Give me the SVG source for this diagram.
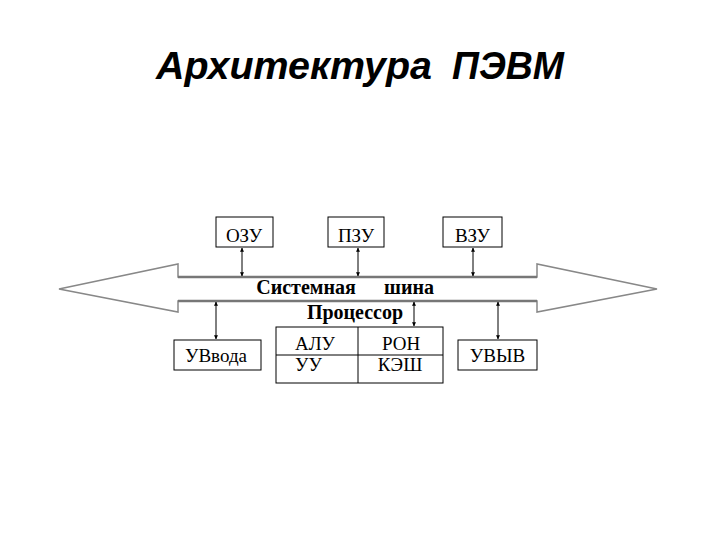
<svg xmlns="http://www.w3.org/2000/svg" width="720" height="540" viewBox="0 0 720 540">
<defs>
<marker id="ah" viewBox="0 0 6 6" refX="5.5" refY="3" markerWidth="4" markerHeight="4" orient="auto-start-reverse">
<path d="M0,0 L6,3 L0,6 z" fill="#000"/>
</marker>
</defs>
<style>
.box{fill:#fff;stroke:#000;stroke-width:1}
.t{font-family:"Liberation Serif","Times New Roman",serif;font-size:19px;fill:#000;text-anchor:middle}
.l{font-family:"Liberation Serif","Times New Roman",serif;font-size:19px;fill:#000}
.b{font-family:"Liberation Serif","Times New Roman",serif;font-size:20px;font-weight:bold;fill:#000;text-anchor:middle}
.h{font-family:"Liberation Sans",Arial,sans-serif;font-size:38px;font-weight:bold;font-style:italic;fill:#000}
.c{stroke:#000;stroke-width:1;fill:none;marker-start:url(#ah);marker-end:url(#ah)}
</style>
<rect width="720" height="540" fill="#fff"/>
<g id="title">
<text class="h" x="156" y="79" textLength="276" lengthAdjust="spacingAndGlyphs">Архитектура</text>
<text class="h" x="452" y="79" textLength="112" lengthAdjust="spacingAndGlyphs">ПЭВМ</text>
</g>
<g id="bus">
<path d="M59,289 L178,264 L178,277 L537,277 L537,264 L657,289 L537,312 L537,301 L178,301 L178,312 Z" fill="#fff" stroke="#888" stroke-width="1.5"/>
<line x1="178" y1="277" x2="537" y2="277" stroke="#777" stroke-width="2.5"/>
<line x1="178" y1="301" x2="537" y2="301" stroke="#777" stroke-width="2.5"/>
<text class="b" x="306" y="294">Системная</text>
<text class="b" x="409" y="294">шина</text>
</g>
<g id="ozu"><rect class="box" x="216" y="217" width="57" height="30"/><text class="t" x="244" y="242">ОЗУ</text></g>
<g id="pzu"><rect class="box" x="328" y="217" width="56" height="30"/><text class="t" x="356" y="242">ПЗУ</text></g>
<g id="vzu"><rect class="box" x="443" y="217" width="59" height="30"/><text class="t" x="472.5" y="242">ВЗУ</text></g>
<g id="uvvoda"><rect class="box" x="174" y="340" width="87" height="30"/><text class="t" x="216" y="362">УВвода</text></g>
<g id="uvyv"><rect class="box" x="458" y="340" width="79" height="30"/><text class="t" x="497.5" y="362">УВЫВ</text></g>
<g id="processor">
<text class="b" x="355" y="319">Процессор</text>
<rect class="box" x="276" y="327" width="167" height="56"/>
<line x1="358" y1="327" x2="358" y2="383" stroke="#000" stroke-width="1"/>
<line x1="276" y1="355" x2="443" y2="355" stroke="#000" stroke-width="1"/>
<text class="t" x="315" y="350">АЛУ</text>
<text class="t" x="401" y="350">РОН</text>
<text class="l" x="295" y="371">УУ</text>
<text class="t" x="400" y="371">КЭШ</text>
</g>
<g id="connectors">
<line class="c" x1="242" y1="248" x2="242" y2="276"/>
<line class="c" x1="358" y1="248" x2="358" y2="276"/>
<line class="c" x1="473" y1="248" x2="473" y2="276"/>
<line class="c" x1="216" y1="302" x2="216" y2="339"/>
<line class="c" x1="414" y1="302" x2="414" y2="326"/>
<line class="c" x1="498" y1="302" x2="498" y2="339"/>
</g>
</svg>
